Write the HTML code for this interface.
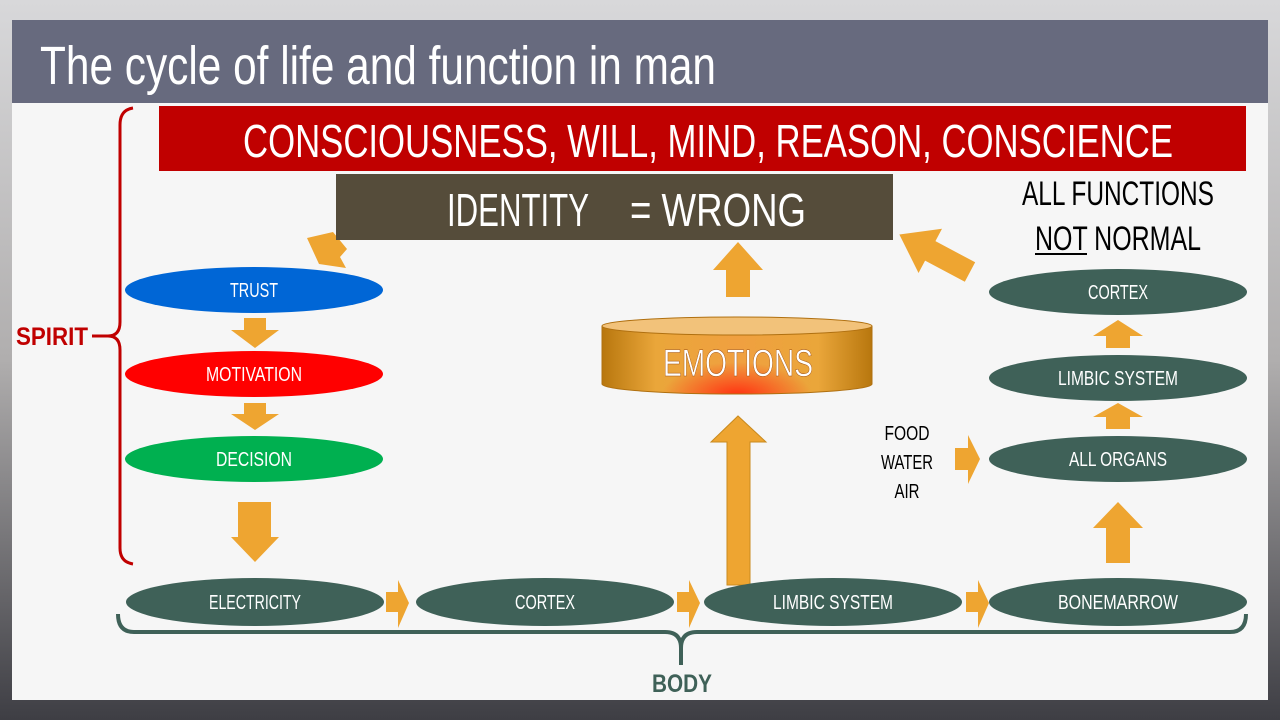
<!DOCTYPE html>
<html><head><meta charset="utf-8"><style>
html,body{margin:0;padding:0;width:1280px;height:720px;overflow:hidden;background:#888}
svg{display:block}
</style></head><body>
<svg width="1280" height="720" viewBox="0 0 1280 720" xmlns="http://www.w3.org/2000/svg" font-family="Liberation Sans, sans-serif">
<defs>
<linearGradient id="bg" x1="0" y1="0" x2="0" y2="1">
<stop offset="0" stop-color="#d8d8da"/><stop offset="0.5" stop-color="#b0aeae"/><stop offset="1" stop-color="#3e3e44"/>
</linearGradient>
<linearGradient id="cyl" x1="0" y1="0" x2="1" y2="0">
<stop offset="0" stop-color="#b8770e"/><stop offset="0.2" stop-color="#eaa63a"/><stop offset="0.5" stop-color="#f0a040"/><stop offset="0.8" stop-color="#eaa63a"/><stop offset="1" stop-color="#b8770e"/>
</linearGradient>
<radialGradient id="hot" cx="0.5" cy="0.5" r="0.5">
<stop offset="0" stop-color="#ff3010"/><stop offset="1" stop-color="#ff3010" stop-opacity="0"/>
</radialGradient>
<clipPath id="cc"><path d="M602,326 L602,384 A135,10 0 0 0 872,384 L872,326 Z"/></clipPath>
</defs>
<rect width="1280" height="720" fill="url(#bg)"/>
<rect x="12" y="20" width="1256" height="680" fill="#f6f6f6"/>
<rect x="12" y="20" width="1256" height="83" fill="#676a7e"/>
<text x="40" y="84" font-size="54" fill="#fff" textLength="676" lengthAdjust="spacingAndGlyphs">The cycle of life and function in man</text>
<rect x="159" y="106" width="1087" height="65" fill="#c00000"/>
<text x="243" y="157" font-size="46" fill="#fff" textLength="930" lengthAdjust="spacingAndGlyphs">CONSCIOUSNESS, WILL, MIND, REASON, CONSCIENCE</text>

<g fill="#eea531">
<polygon points="307,238 333,232 347,249 340,257 346,268 319,264"/>
</g>
<rect x="336" y="174" width="557" height="66" fill="#554c3a"/>
<text x="447" y="226" font-size="46" fill="#fff" textLength="142" lengthAdjust="spacingAndGlyphs">IDENTITY</text>
<text x="630" y="226" font-size="46" fill="#fff" textLength="176" lengthAdjust="spacingAndGlyphs">= WRONG</text>
<text x="1022" y="205" font-size="34" fill="#000" textLength="192" lengthAdjust="spacingAndGlyphs">ALL FUNCTIONS</text>
<text x="1035" y="250" font-size="34" fill="#000" textLength="166" lengthAdjust="spacingAndGlyphs">NOT NORMAL</text>
<rect x="1035" y="253" width="52" height="2" fill="#000"/>

<path d="M133,108 Q120,110 120,125 L120,322 Q120,336 108,336 Q120,336 120,350 L120,548 Q120,562 133,564" fill="none" stroke="#c00000" stroke-width="3"/>
<line x1="92" y1="336" x2="108" y2="336" stroke="#c00000" stroke-width="3"/>
<text x="16" y="345" font-size="25" font-weight="bold" fill="#c00000" textLength="72" lengthAdjust="spacingAndGlyphs">SPIRIT</text>

<path d="M118,614 Q118,632 134,632 L665,632 Q681,632 681,648 L681,665 M681,648 Q681,632 697,632 L1230,632 Q1246,632 1246,614" fill="none" stroke="#3f6158" stroke-width="4"/>
<text x="652" y="692" font-size="25" font-weight="bold" fill="#3f6158" textLength="60" lengthAdjust="spacingAndGlyphs">BODY</text>

<g fill="#eea531">
<polygon points="244,318 266,318 266,330 279,330 255,348 231,330 244,330"/>
<polygon points="244,403 266,403 266,414 279,414 255,430 231,414 244,414"/>
<polygon points="238,502 271,502 271,537 279,537 255,562 231,537 238,537"/>
<polygon points="386,592 398,592 398,580 409,603 398,628 398,612 386,612"/>
<polygon points="677,592 689,592 689,580 700,603 689,628 689,612 677,612"/>
<polygon points="966,592 978,592 978,580 989,603 978,628 978,612 966,612"/>
<polygon points="955,448 968,448 968,435 980,459 968,484 968,470 955,470"/>
<polygon points="1106,563 1130,563 1130,528 1143,528 1118,502 1093,528 1106,528"/>
<polygon points="1106,429 1130,429 1130,417 1143,417 1118,403 1093,417 1106,417"/>
<polygon points="1106,348 1130,348 1130,336 1143,336 1118,320 1093,336 1106,336"/>
<polygon points="727,585 750,585 750,442 766,442 738,416 711,442 727,442" stroke="#c98a1e" stroke-width="1"/>
<polygon points="726,297 750,297 750,270 763,270 738,242 713,270 726,270"/>
<polygon points="0,-11 45,-11 45,-25 80,0 45,25 45,11 0,11" transform="translate(970,272) rotate(208)"/>
</g>

<path d="M602,326 L602,384 A135,10 0 0 0 872,384 L872,326 Z" fill="url(#cyl)"/>
<ellipse cx="737" cy="396" rx="75" ry="34" fill="url(#hot)" clip-path="url(#cc)"/>
<path d="M602,326 L602,384 A135,10 0 0 0 872,384 L872,326" fill="none" stroke="#b07010" stroke-width="1"/>
<ellipse cx="737" cy="326" rx="135" ry="9" fill="#f2c27a" stroke="#b07010" stroke-width="1"/>
<text x="663" y="376" font-size="38" fill="#fff" stroke="#a05010" stroke-width="0.5" textLength="150" lengthAdjust="spacingAndGlyphs">EMOTIONS</text>

<g font-size="20" fill="#fff" text-anchor="middle">
<ellipse cx="254" cy="290" rx="129" ry="23" fill="#0066d6"/>
<text x="254" y="297" textLength="48" lengthAdjust="spacingAndGlyphs">TRUST</text>
<ellipse cx="254" cy="374" rx="129" ry="23" fill="#ff0000"/>
<text x="254" y="381" textLength="96" lengthAdjust="spacingAndGlyphs">MOTIVATION</text>
<ellipse cx="254" cy="459" rx="129" ry="23" fill="#00b050"/>
<text x="254" y="466" textLength="76" lengthAdjust="spacingAndGlyphs">DECISION</text>
<g fill="#3f6158">
<ellipse cx="255" cy="602" rx="129" ry="24"/>
<ellipse cx="545" cy="602" rx="129" ry="24"/>
<ellipse cx="833" cy="602" rx="129" ry="24"/>
<ellipse cx="1118" cy="602" rx="129" ry="24"/>
<ellipse cx="1118" cy="459" rx="129" ry="23"/>
<ellipse cx="1118" cy="378" rx="129" ry="23"/>
<ellipse cx="1118" cy="292" rx="129" ry="23"/>
</g>
<text x="255" y="609" textLength="92" lengthAdjust="spacingAndGlyphs">ELECTRICITY</text>
<text x="545" y="609" textLength="60" lengthAdjust="spacingAndGlyphs">CORTEX</text>
<text x="833" y="609" textLength="120" lengthAdjust="spacingAndGlyphs">LIMBIC SYSTEM</text>
<text x="1118" y="609" textLength="120" lengthAdjust="spacingAndGlyphs">BONEMARROW</text>
<text x="1118" y="466" textLength="98" lengthAdjust="spacingAndGlyphs">ALL ORGANS</text>
<text x="1118" y="385" textLength="120" lengthAdjust="spacingAndGlyphs">LIMBIC SYSTEM</text>
<text x="1118" y="299" textLength="60" lengthAdjust="spacingAndGlyphs">CORTEX</text>
</g>
<g font-size="20" fill="#000" text-anchor="middle">
<text x="907" y="440" textLength="45" lengthAdjust="spacingAndGlyphs">FOOD</text>
<text x="907" y="469" textLength="52" lengthAdjust="spacingAndGlyphs">WATER</text>
<text x="907" y="498" textLength="25" lengthAdjust="spacingAndGlyphs">AIR</text>
</g>
</svg>
</body></html>
